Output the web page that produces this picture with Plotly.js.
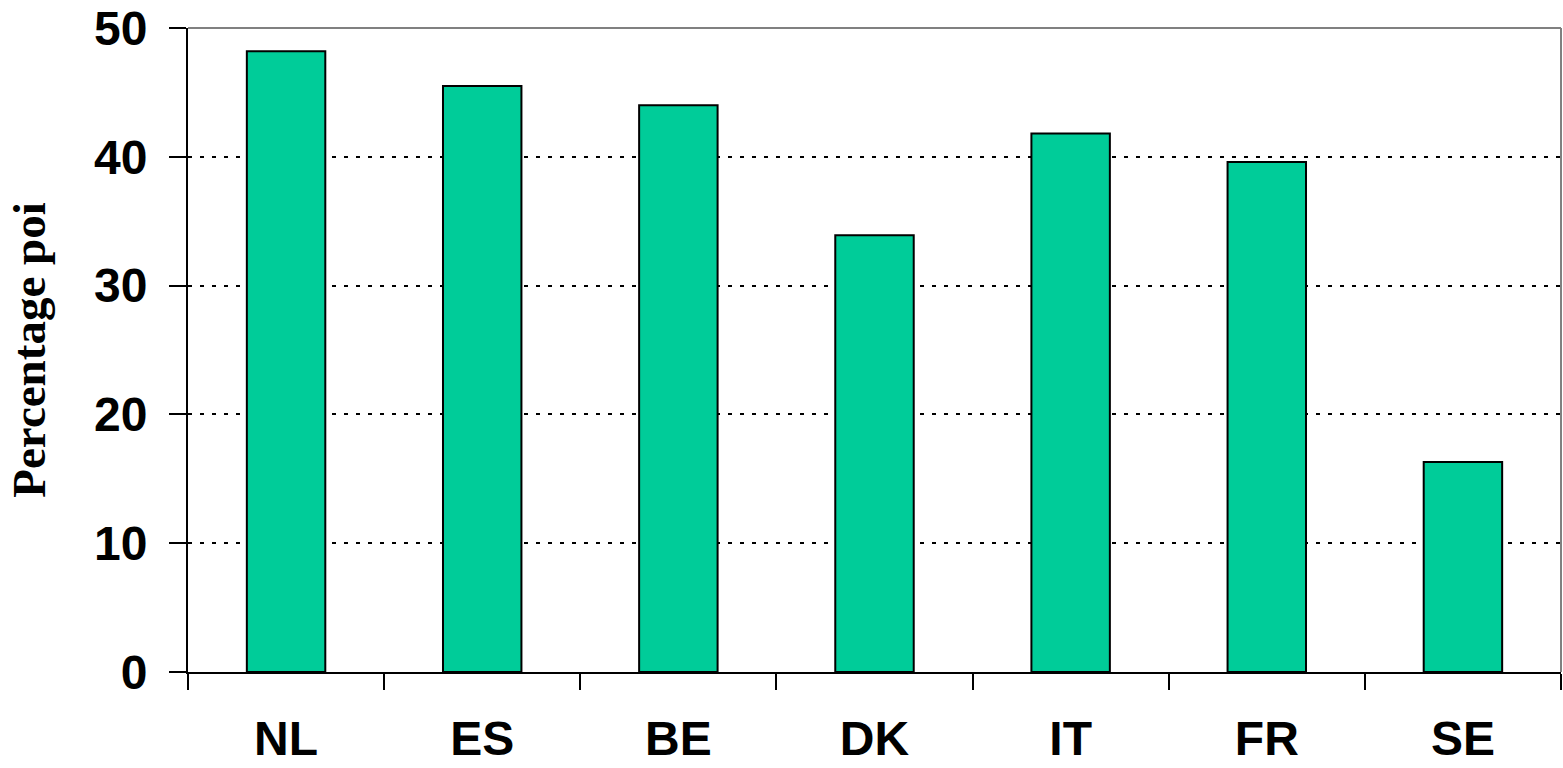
<!DOCTYPE html>
<html><head><meta charset="utf-8">
<script src="https://cdn.plot.ly/plotly-3.0.1.min.js"></script>
<style>html,body{margin:0;padding:0;background:#fff;}#chart{width:1563px;height:768px;}</style>
</head><body><div id="chart"></div>
<script>
const categories = ["NL", "ES", "BE", "DK", "IT", "FR", "SE"];
const values = [48.2, 45.5, 44.0, 33.9, 41.8, 39.6, 16.3];
const yTicks = [0, 10, 20, 30, 40, 50];
const yTitle = "Percentage poi";

const trace = {
  type: 'bar', x: categories, y: values,
  marker: {color: '#00CC99', line: {color: '#000', width: 2}},
  width: 0.4, hoverinfo: 'x+y'
};
const layout = {
  width: 1563, height: 768,
  margin: {l: 188, r: 2, t: 28, b: 96},
  paper_bgcolor: '#fff', plot_bgcolor: '#fff',
  showlegend: false,
  xaxis: {
    type: 'category', tickson: 'boundaries', ticks: 'outside', ticklen: 16, tickwidth: 2, tickcolor: '#000',
    showline: true, linecolor: '#000', linewidth: 2, showgrid: false, zeroline: false,
    tickfont: {family: 'Liberation Sans, Arial, sans-serif', size: 48, color: '#000', weight: 'bold'},
    ticklabelstandoff: 23
  },
  yaxis: {
    range: [0, 50], tickvals: yTicks, ticks: 'outside', ticklen: 17, tickwidth: 2, tickcolor: '#000',
    showline: true, linecolor: '#000', linewidth: 2, zeroline: false,
    showgrid: true, gridcolor: '#000', gridwidth: 2, griddash: '4px,8px',
    tickfont: {family: 'Liberation Sans, Arial, sans-serif', size: 48, color: '#000', weight: 'bold'},
    ticklabelstandoff: 12,
    title: {text: yTitle, font: {family: 'Liberation Serif, Times New Roman, serif', size: 47, color: '#000', weight: 'bold'}, standoff: 34}
  },
  shapes: [
    {type: 'line', xref: 'paper', yref: 'paper', x0: 0, x1: 1, y0: 1, y1: 1, line: {color: '#808080', width: 2}},
    {type: 'line', xref: 'paper', yref: 'paper', x0: 1, x1: 1, y0: 0, y1: 1, line: {color: '#808080', width: 2}}
  ]
};
Plotly.newPlot('chart', [trace], layout, {displayModeBar: false, staticPlot: true});
</script></body></html>
